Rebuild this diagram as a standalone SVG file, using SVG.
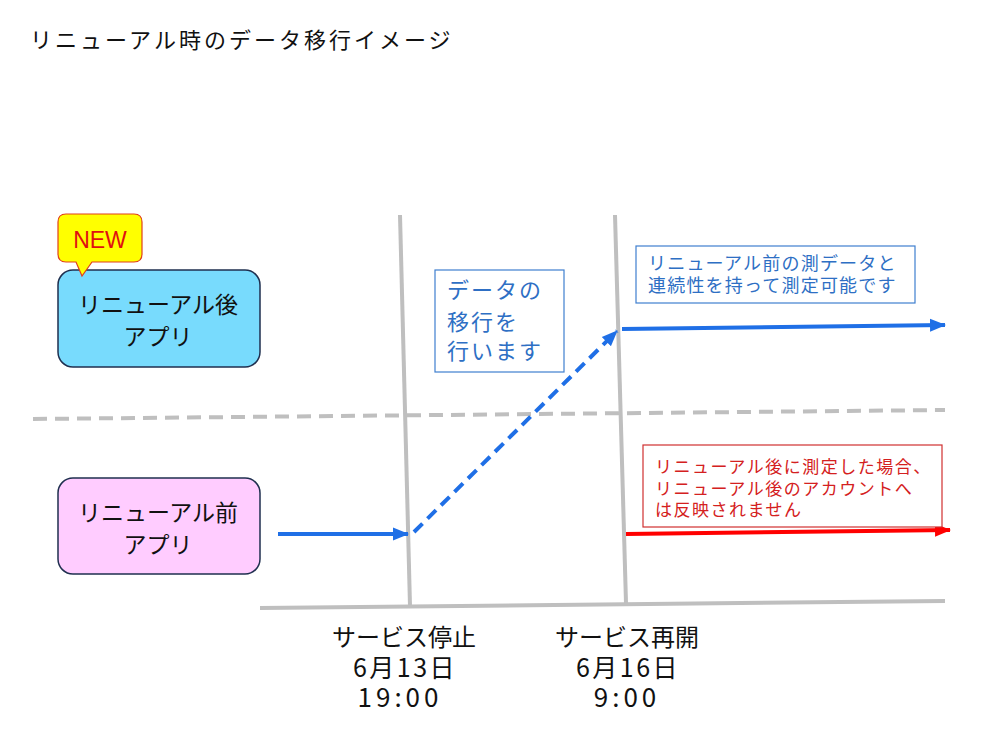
<svg xmlns="http://www.w3.org/2000/svg" width="1000" height="750" viewBox="0 0 1000 750">
<style>
text{font-family:"Noto Sans CJK JP","Liberation Sans",sans-serif}
.t{font-size:23px;fill:#111;text-anchor:middle}
.d{font-size:25px;letter-spacing:2.5px}
.tm{font-size:26px;letter-spacing:4px}
.g{stroke:#bfbfbf;stroke-width:4;fill:none}
.bl{stroke:#1f6fe6;stroke-width:4;fill:none}
.nb{font-size:18px;letter-spacing:1.2px;fill:#2e6fc4}
.nr{font-size:17px;letter-spacing:1.5px;fill:#d42020}
.m{font-size:22px;letter-spacing:2px;fill:#2e6fc4}
</style>
<defs>
<marker id="ab" markerUnits="userSpaceOnUse" markerWidth="16" markerHeight="16" viewBox="0 0 16 16" refX="15" refY="8" orient="auto"><path d="M0,1.5 L16,8 L0,14.5 Z" fill="#1f6fe6"/></marker>
<marker id="ar" markerUnits="userSpaceOnUse" markerWidth="16" markerHeight="16" viewBox="0 0 16 16" refX="15" refY="8" orient="auto"><path d="M0,1.5 L16,8 L0,14.5 Z" fill="#ff0000"/></marker>
</defs>
<rect width="1000" height="750" fill="#fff"/>
<text x="30" y="48" style="font-size:22px;letter-spacing:3px;fill:#111">リニューアル時のデータ移行イメージ</text>

<g id="grid">
<line class="g" x1="33" y1="419" x2="945" y2="410" stroke-dasharray="14 8"/>
<line class="g" x1="400" y1="215" x2="410" y2="606"/>
<line class="g" x1="615" y1="215" x2="626" y2="603"/>
<line class="g" x1="260" y1="608" x2="945" y2="601"/>
</g>

<g id="node-after">
<rect x="58" y="270" width="202" height="97" rx="15" fill="#78dbfd" stroke="#1f2f4f" stroke-width="1.5"/>
<text class="t" x="158" y="313">リニューアル後</text>
<text class="t" x="158" y="345">アプリ</text>
</g>
<g id="node-new">
<path d="M66,214 H134 Q142,214 142,222 V254 Q142,262 134,262 H92 L82,276 L76,262 H66 Q58,262 58,254 V222 Q58,214 66,214 Z" fill="#ffff00" stroke="#e0401a" stroke-width="1.2"/>
<text x="100" y="248" style="font-size:23px;fill:#e01010;text-anchor:middle;font-family:'Liberation Sans','Noto Sans',sans-serif">NEW</text>
</g>
<g id="node-before">
<rect x="58" y="478" width="202" height="96" rx="15" fill="#ffccff" stroke="#1f2f4f" stroke-width="1.5"/>
<text class="t" x="158" y="521">リニューアル前</text>
<text class="t" x="158" y="553">アプリ</text>
</g>

<g id="connectors">
<line class="bl" x1="278" y1="534" x2="408" y2="534" marker-end="url(#ab)"/>
<line class="bl" x1="414" y1="532" x2="617" y2="331" stroke-dasharray="12 7" marker-end="url(#ab)"/>
<line class="bl" x1="622" y1="329" x2="945" y2="325" marker-end="url(#ab)"/>
<line x1="626" y1="534" x2="950" y2="530" stroke="#ff0000" stroke-width="4" marker-end="url(#ar)"/>
</g>

<g id="note-migrate">
<rect x="435" y="270" width="129" height="102" fill="#fff" stroke="#3f7fcf" stroke-width="1.2"/>
<text class="m" x="447" y="298">データの</text>
<text class="m" x="447" y="330">移行を</text>
<text class="m" x="447" y="359">行います</text>
</g>
<g id="note-continuity">
<rect x="636" y="246" width="279" height="57" fill="#fff" stroke="#3f7fcf" stroke-width="1.2"/>
<text class="nb" x="648" y="270">リニューアル前の測データと</text>
<text class="nb" x="648" y="292">連続性を持って測定可能です</text>
</g>
<g id="note-warning">
<rect x="643" y="445" width="299" height="82" fill="#fff" stroke="#d03030" stroke-width="1.2"/>
<text class="nr" x="655" y="473">リニューアル後に測定した場合、</text>
<text class="nr" x="655" y="495">リニューアル後のアカウントへ</text>
<text class="nr" x="655" y="516">は反映されません</text>
</g>

<g id="label-stop">
<text class="t" x="404" y="646" style="font-size:24px">サービス停止</text>
<text class="t d" x="405" y="677">6月13日</text>
<text class="t tm" x="400" y="707">19:00</text>
</g>
<g id="label-resume">
<text class="t" x="627" y="646" style="font-size:24px">サービス再開</text>
<text class="t d" x="628" y="677">6月16日</text>
<text class="t tm" x="627" y="707">9:00</text>
</g>
</svg>
